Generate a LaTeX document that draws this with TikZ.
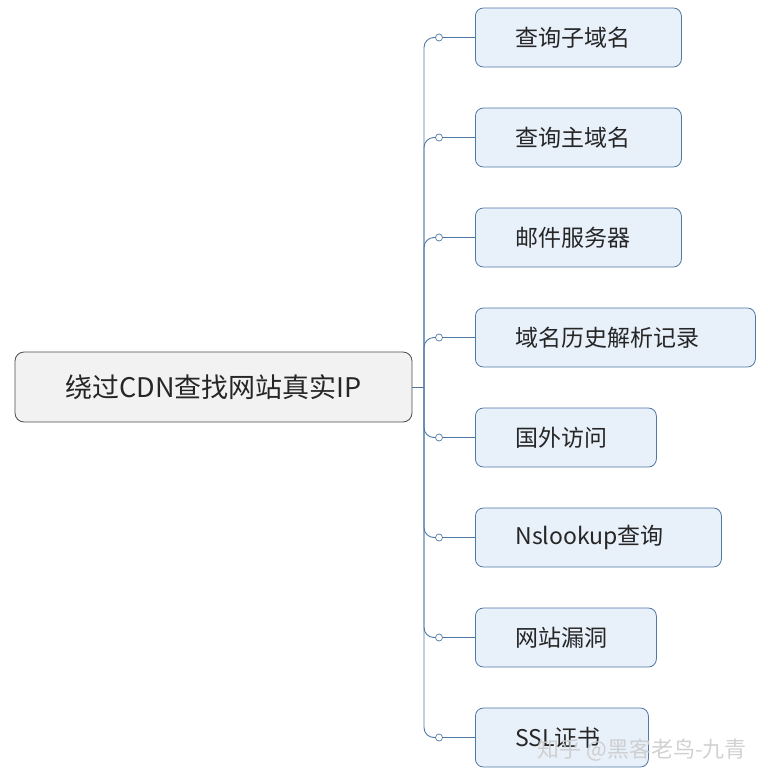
\documentclass[tikz,border=0pt]{standalone}
\usepackage{fontspec}
\setmainfont{Noto Sans CJK SC}
\definecolor{edge}{RGB}{80,120,165}
\definecolor{boxfill}{RGB}{232,240,250}
\begin{document}
\begin{tikzpicture}[x=1pt,y=-1pt,
  child/.style={draw=edge, line width=0.8pt, fill=boxfill, rounded corners=8pt, anchor=west, minimum height=59pt, inner xsep=40pt, font=\fontsize{23}{26}\selectfont, text=black!85},
  dot/.style={circle, draw=edge, line width=0.7pt, fill=white, inner sep=0pt, minimum size=7pt},
  link/.style={draw=edge, line width=0.9pt}]
\useasboundingbox (0,0) rectangle (768,782);
\node[draw=black!70, line width=0.8pt, fill=gray!10, rounded corners=9pt, minimum width=397pt, minimum height=70pt, font=\fontsize{27}{30}\selectfont, text=black!85] (root) at (213.5,387) {绕过CDN查找网站真实IP};
\coordinate (spine) at (424,387);
\draw[link] (root.east) -- (spine);
\foreach \i/\y/\w/\t in {1/37.5/126/查询子域名, 2/137.5/126/查询主域名, 3/237.5/126/邮件服务器, 4/337.5/200/域名历史解析记录, 5/437.5/101/国外访问, 6/537.5/166/Nslookup查询, 7/637.5/101/网站漏洞, 8/737.5/93/SSL证书}{
  \node[child, text width=\w pt] (c\i) at (475,\y) {\t};
  \node[dot] (d\i) at (439,\y) {};
  \draw[link, rounded corners=10pt] (spine) |- (d\i.west);
  \draw[link] (d\i.east) -- (c\i.west);
}
\node[text=gray!40, opacity=0.9, font=\fontsize{22}{24}\selectfont] (wm) at (642,750) {知乎 @黑客老鸟-九青};
\end{tikzpicture}
\end{document}
